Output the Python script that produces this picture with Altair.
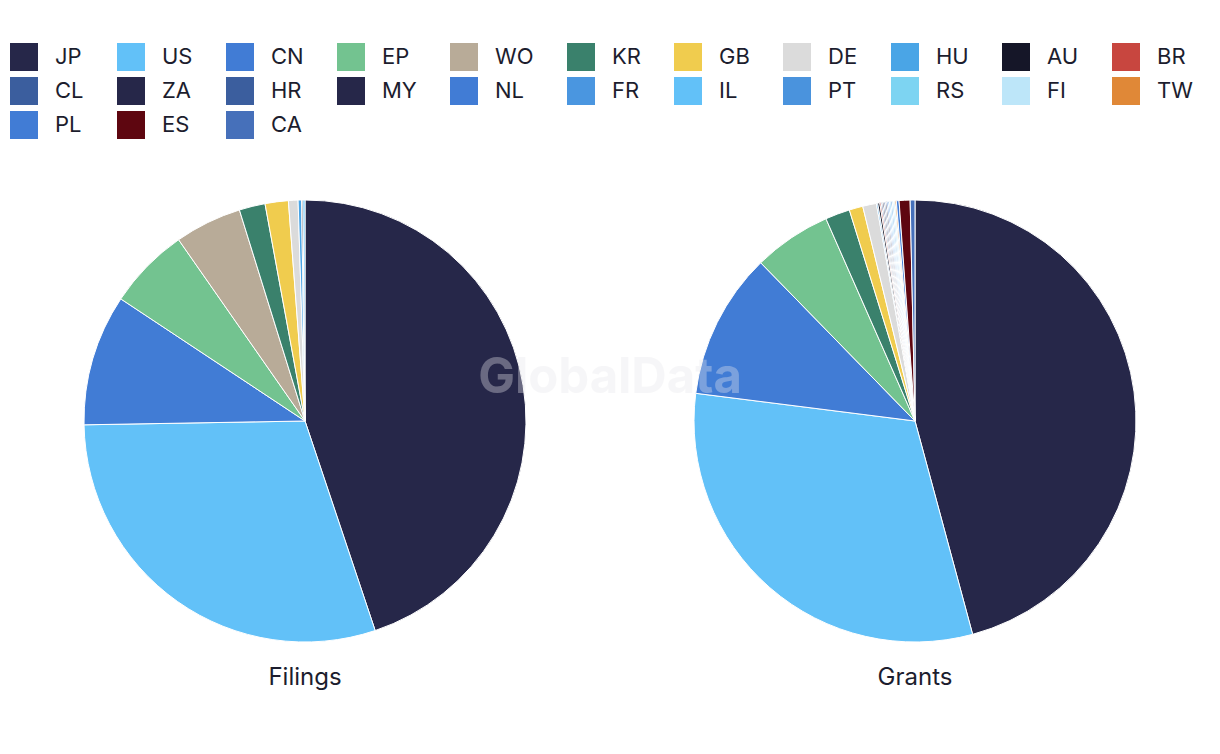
import altair as alt
import pandas as pd

countries = ["JP", "US", "CN", "EP", "WO", "KR", "GB", "DE", "HU", "AU", "BR",
             "CL", "ZA", "HR", "MY", "NL", "FR", "IL", "PT", "RS", "FI", "TW",
             "PL", "ES", "CA"]
colors = ["#262749", "#62C1F8", "#417CD5", "#73C390", "#B8AB98", "#3A816C",
          "#F0CC4E", "#DBDBDB", "#4AA5E6", "#151628", "#C8463F",
          "#3B5E9E", "#262749", "#3B5E9E", "#262749", "#417CD5", "#4A96E0",
          "#62C1F8", "#4A93DD", "#7DD4F2", "#BDE6F9", "#E08837",
          "#417CD5", "#5E0610", "#4670BA"]
filings = [44.9, 29.9, 9.6, 6.0, 4.9, 1.9, 1.7, 0.7, 0.25, 0.1, 0.0,
           0.0, 0.0, 0.0, 0.0, 0.0, 0.0, 0.15, 0.0, 0.0, 0.0, 0.0,
           0.0, 0.0, 0.0]
grants = [45.8, 31.2, 10.7, 5.7, 0.0, 1.8, 1.0, 1.0, 0.1, 0.15, 0.1,
          0.1, 0.1, 0.1, 0.1, 0.1, 0.1, 0.1, 0.1, 0.1, 0.1, 0.1,
          0.2, 0.8, 0.35]
panels = ["Filings", "Grants"]

rows = []
for i, c in enumerate(countries):
    rows.append({"country": c, "idx": i, "type": "Filings", "value": filings[i]})
    rows.append({"country": c, "idx": i, "type": "Grants", "value": grants[i]})
df = pd.DataFrame(rows)

FONT = "Inter"
TXT = "#1c1d2e"

color = alt.Color(
    "country:N",
    scale=alt.Scale(domain=countries, range=colors),
    legend=alt.Legend(
        title=None, orient="none", legendX=10, legendY=43, direction="horizontal",
        columns=11, gridAlign="none", symbolType="square", symbolSize=784,
        symbolStrokeWidth=0, labelFontSize=22, labelFont=FONT, labelColor=TXT,
        labelOffset=17, columnPadding=33, rowPadding=6, padding=0,
        symbolOpacity=1, labelLimit=200,
    ),
)

def pie(name, cx):
    return alt.Chart(df).transform_filter(
        (alt.datum.type == name) & (alt.datum.value > 0)
    ).mark_arc(radius=221, stroke="white", strokeWidth=1).encode(
        theta=alt.Theta("value:Q", stack=True),
        order=alt.Order("idx:Q"),
        color=color,
        x=alt.value(cx),
        y=alt.value(421),
    )

titles_df = pd.DataFrame({"label": panels, "cx": [305, 915]})
titles = alt.Chart(titles_df).mark_text(
    fontSize=24, font=FONT, color=TXT, baseline="middle", align="center"
).encode(
    x=alt.X("cx:Q", scale=alt.Scale(domain=[0, 1220], range=[0, 1220]), axis=None),
    y=alt.value(678),
    text="label:N",
)

watermark = alt.Chart(pd.DataFrame({"t": ["GlobalData"]})).mark_text(
    fontSize=49, font=FONT, fontWeight="bold", color="#e8e8ec", opacity=0.35,
    align="center", baseline="middle"
).encode(x=alt.value(610), y=alt.value(378), text="t:N")

chart = alt.layer(pie("Filings", 305), pie("Grants", 915), titles, watermark).resolve_scale(
    theta="independent"
).properties(
    width=1220, height=754, padding=0, autosize=alt.AutoSizeParams(type="none")
).configure_view(stroke=None).configure_legend(gridAlign="none")

chart.save("out.html", embed_options={"renderer": "svg", "actions": False})
